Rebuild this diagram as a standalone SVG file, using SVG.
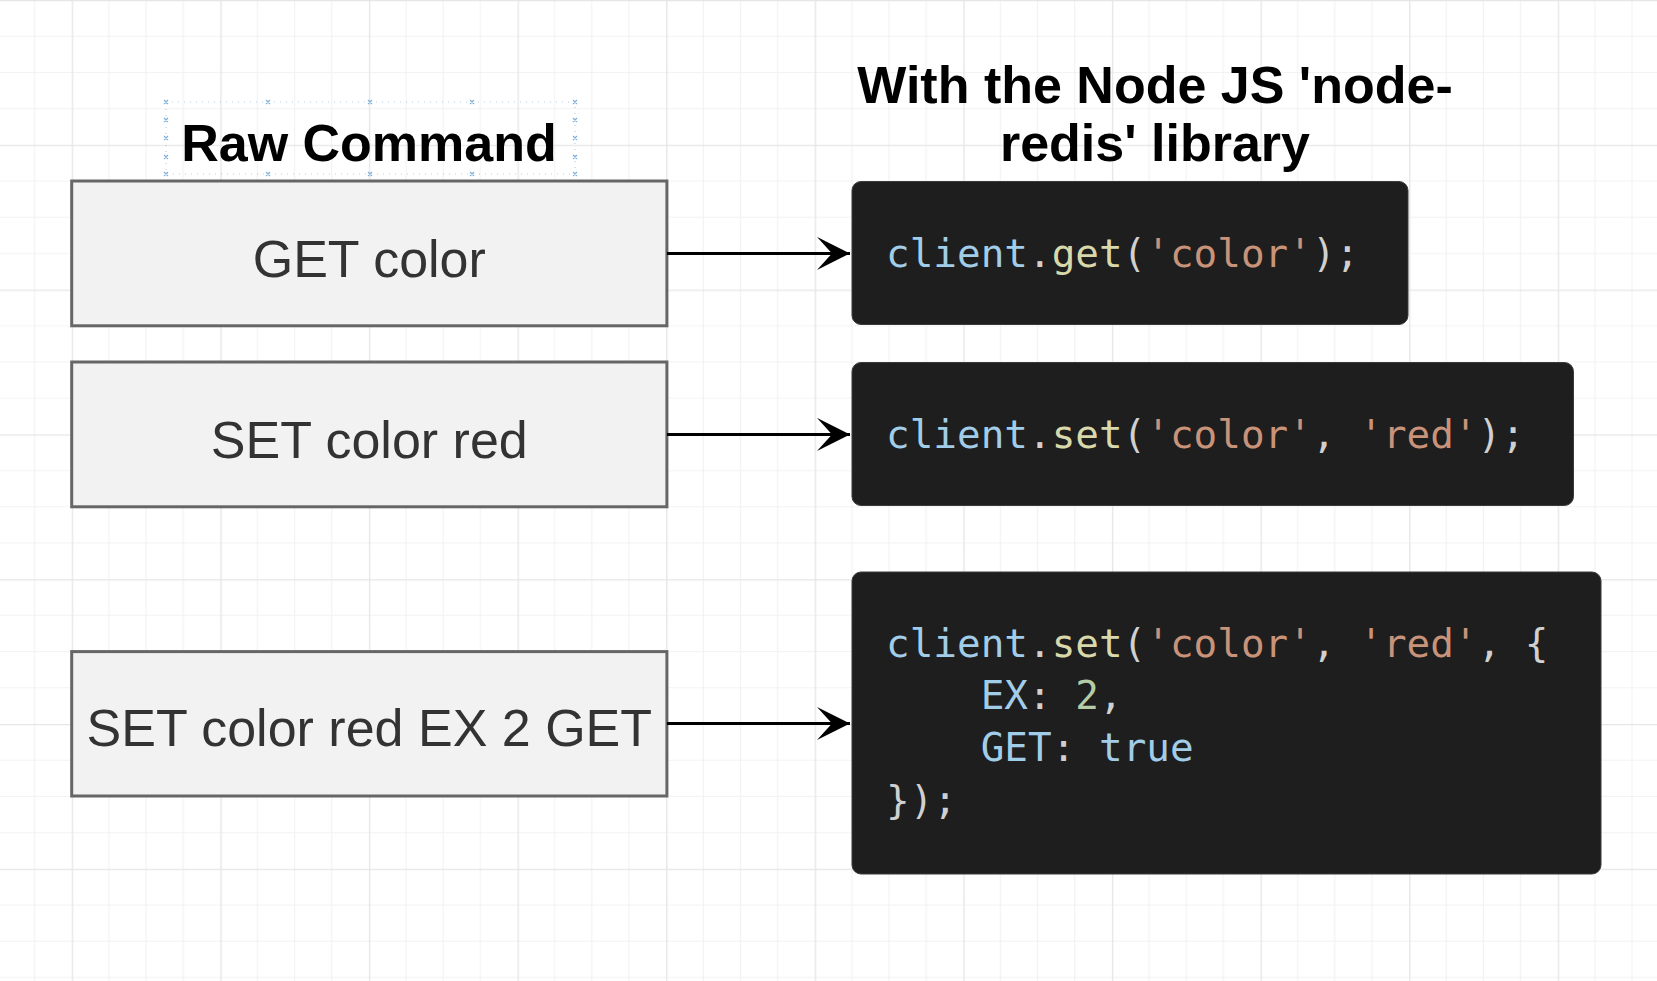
<svg xmlns="http://www.w3.org/2000/svg" width="1657" height="981" viewBox="0 0 1657 981">
<style>
.cmd{fill:#f2f2f2;stroke:#666666;stroke-width:3}
.code{fill:#1e1e1e;stroke:#3a3a3a;stroke-width:1}
.lbl{font-family:"Liberation Sans",Arial,sans-serif;font-size:52px;fill:#333333;text-anchor:middle}
.ttl{font-family:"Liberation Sans",Arial,sans-serif;font-size:52px;font-weight:bold;fill:#000000;text-anchor:middle}
.mono{font-family:"DejaVu Sans Mono",monospace;font-size:39.3px;fill:#d0d0d0}
.v{fill:#a2cde8}.f{fill:#d8d8aa}.s{fill:#c9937a}.n{fill:#b5cda6}
.conn{stroke:#000000;stroke-width:3;fill:none}
.sel{stroke:#7fb0dc;stroke-width:1.2;fill:none}
</style>
<defs>
<pattern id="grid" patternUnits="userSpaceOnUse" x="-76.9" y="0" width="148.6" height="144.8">
<path d="M37.15,0V144.8M74.3,0V144.8M111.45,0V144.8M0,36.2H148.6M0,72.4H148.6M0,108.6H148.6" stroke="#f2f2f2" stroke-width="1.2" fill="none"/>
<path d="M0.6,0V144.8M0,0.6H148.6" stroke="#e6e6e6" stroke-width="1.5" fill="none"/>
</pattern>
<marker id="arr" markerUnits="userSpaceOnUse" viewBox="0 0 34 33" refX="33" refY="16.5" markerWidth="34" markerHeight="33" orient="auto">
<path d="M0,0 L33,16.5 L0,33 L15,16.5 Z" fill="#000000"/>
</marker>
</defs>
<rect x="0" y="0" width="1657" height="981" fill="#ffffff"/>
<rect x="0" y="0" width="1657" height="981" fill="url(#grid)"/>

<g id="title-raw">
<rect x="166" y="102" width="409" height="72" class="sel" stroke-dasharray="1 5" opacity="0.6"/>
<path class="sel" d="M164,100l4,4m0,-4l-4,4M266,100l4,4m0,-4l-4,4M368,100l4,4m0,-4l-4,4M470,100l4,4m0,-4l-4,4M573,100l4,4m0,-4l-4,4M164,172l4,4m0,-4l-4,4M266,172l4,4m0,-4l-4,4M368,172l4,4m0,-4l-4,4M470,172l4,4m0,-4l-4,4M573,172l4,4m0,-4l-4,4M164,118l4,4m0,-4l-4,4M164,136l4,4m0,-4l-4,4M164,155l4,4m0,-4l-4,4M573,118l4,4m0,-4l-4,4M573,136l4,4m0,-4l-4,4M573,155l4,4m0,-4l-4,4"/>
<text class="ttl" x="369" y="160.5">Raw Command</text>
</g>

<g id="title-node">
<text class="ttl" x="1155" y="102.5">With the Node JS 'node-</text>
<text class="ttl" x="1155" y="160.5">redis' library</text>
</g>

<g id="cmd-get">
<rect class="cmd" x="71.7" y="181" width="595.2" height="144.8"/>
<text class="lbl" x="369.3" y="277">GET color</text>
</g>
<g id="cmd-set">
<rect class="cmd" x="71.7" y="362" width="595.2" height="144.8"/>
<text class="lbl" x="369.3" y="457.5">SET color red</text>
</g>
<g id="cmd-set-ex">
<rect class="cmd" x="71.7" y="651.6" width="595.2" height="144.4"/>
<text class="lbl" x="369.3" y="746">SET color red EX 2 GET</text>
</g>

<g id="code-get">
<rect class="code" x="852" y="181.5" width="556" height="143" rx="9"/>
<text class="mono" x="886" y="267"><tspan class="v">client</tspan>.<tspan class="f">get</tspan>(<tspan class="s">'color'</tspan>);</text>
</g>
<g id="code-set">
<rect class="code" x="852" y="362.5" width="721.5" height="143" rx="9"/>
<text class="mono" x="886" y="448"><tspan class="v">client</tspan>.<tspan class="f">set</tspan>(<tspan class="s">'color'</tspan>, <tspan class="s">'red'</tspan>);</text>
</g>
<g id="code-set-ex">
<rect class="code" x="852" y="572" width="749" height="302" rx="9"/>
<text class="mono" x="886" y="656.5"><tspan class="v">client</tspan>.<tspan class="f">set</tspan>(<tspan class="s">'color'</tspan>, <tspan class="s">'red'</tspan>, {</text>
<text class="mono" x="980.7" y="708.5"><tspan class="v">EX</tspan>: <tspan class="n">2</tspan>,</text>
<text class="mono" x="980.7" y="761"><tspan class="v">GET</tspan>: <tspan class="v">true</tspan></text>
<text class="mono" x="886" y="814">});</text>
</g>

<g id="connectors">
<line class="conn" x1="667" y1="253.4" x2="850" y2="253.4" marker-end="url(#arr)"/>
<line class="conn" x1="667" y1="434.4" x2="850" y2="434.4" marker-end="url(#arr)"/>
<line class="conn" x1="667" y1="723.5" x2="850" y2="723.5" marker-end="url(#arr)"/>
</g>
</svg>
